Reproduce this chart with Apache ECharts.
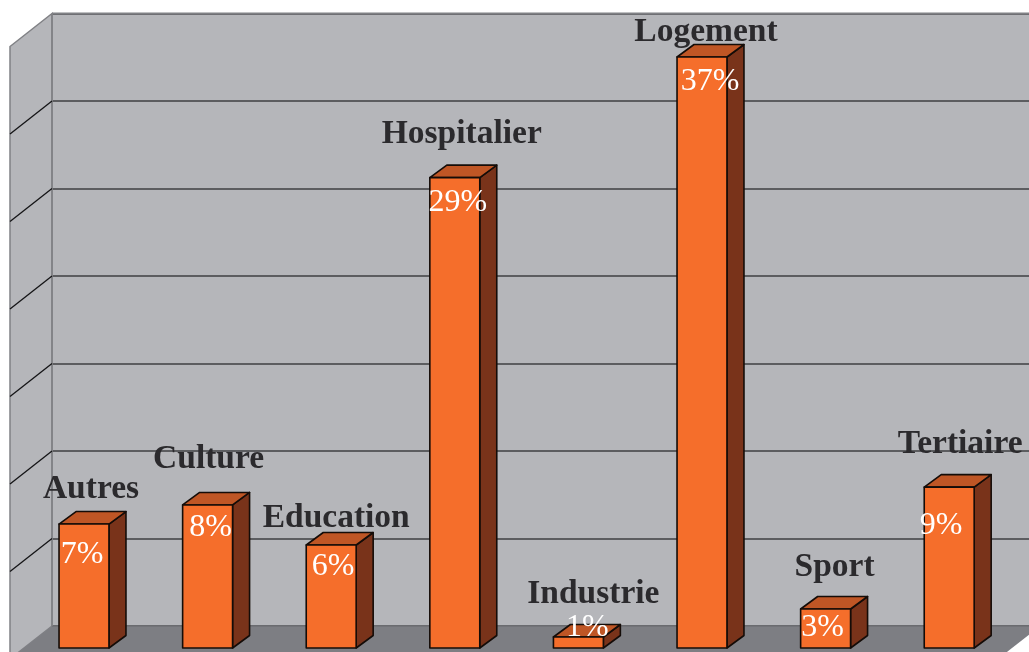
<!DOCTYPE html>
<html>
<head>
<meta charset="utf-8">
<style>html,body{margin:0;padding:0;background:#fff}#c{width:1029px;height:652px}</style>
<script src="https://cdn.jsdelivr.net/npm/echarts@6/dist/echarts.min.js"></script>
</head>
<body>
<div id="c"></div>
<script>
// Data
const categories = ['Autres','Culture','Education','Hospitalier','Industrie','Logement','Sport','Tertiaire'];
const percentLabels = ['7%','8%','6%','29%','1%','37%','3%','9%'];
const barValues = [7.09,8.18,5.89,26.9,0.63,33.8,2.23,9.2]; // heights as read against the gridlines
const wallTicks = [0,5,10,15,20,25,30,35];

// Layout / style (label offsets relative to bar top-centre, in px)
const nameDx = [7,1,5,7,15,4,9,11];
const nameDy = [-35,-46,-27,-43,-43,-25,-42,-43];
const pctDx  = [-2,3,2,3,9,8,-3,-8];
const pctDy  = [31,23,22,25,-9,25,19,38];
const SERIF = '"Liberation Serif","Times New Roman",serif';
const WALL='#b5b6ba', EDGE='#808185', FLOOR='#7d7e83';
const FRONT='#f56e2b', TOP='#bf5625', SIDE='#79331a', STROKE='#140c08';
const wallDepth=[-42,33], barDepth=[17,-12.5];
const off=(p,d)=>[p[0]+d[0],p[1]+d[1]];

const chart = echarts.init(document.getElementById('c'),null,{renderer:'canvas'});
chart.setOption({
  animation:false,
  backgroundColor:'#fff',
  grid:[
    {left:52,right:-1,top:13.5,height:612.5,show:true,backgroundColor:WALL,borderWidth:0},
    {left:22.2,right:18,top:36,height:612}
  ],
  xAxis:[
    {gridIndex:0,type:'value',min:0,max:1,show:false},
    {gridIndex:1,type:'category',data:categories,show:false}
  ],
  yAxis:[
    {gridIndex:0,type:'value',min:0,max:35,interval:5,
      axisLine:{show:false},axisTick:{show:false},axisLabel:{show:false},
      splitLine:{show:true,lineStyle:{color:'#3f3f42',width:1.5}}},
    {gridIndex:1,type:'value',min:0,max:35,show:false}
  ],
  series:[
    { // side wall and floor
      type:'custom',xAxisIndex:0,yAxisIndex:0,z:2,silent:true,clip:false,
      data:[[0,0,35]],
      renderItem(params,api){
        const b=api.coord([0,api.value(1)]), t=api.coord([0,api.value(2)]), r=api.coord([1,api.value(1)]);
        const tr=api.coord([1,api.value(2)]);
        const flEnd=[r[0]+11,r[1]];
        return {type:'group',children:[
          {type:'polygon',shape:{points:[t,off(t,wallDepth),off(b,wallDepth),b]},
            style:{fill:WALL,stroke:EDGE,lineWidth:1.5}},
          {type:'polygon',shape:{points:[b,flEnd,off(flEnd,wallDepth),off(b,wallDepth)]},
            style:{fill:FLOOR,stroke:'none'}},
          {type:'line',shape:{x1:b[0],y1:b[1],x2:r[0],y2:r[1]},style:{stroke:'#6f7074',lineWidth:1.5}},
          {type:'line',shape:{x1:t[0],y1:t[1],x2:tr[0],y2:tr[1]},style:{stroke:EDGE,lineWidth:2}},
          {type:'line',shape:{x1:t[0],y1:t[1],x2:b[0],y2:b[1]},style:{stroke:EDGE,lineWidth:1.5}}
        ]};
      }
    },
    { // gridline continuation on the side wall
      type:'custom',xAxisIndex:0,yAxisIndex:0,z:3,silent:true,clip:false,
      data:wallTicks.slice(1,-1).map(v=>[0,v]),
      renderItem(params,api){
        const p=api.coord([0,api.value(1)]), q=off(p,wallDepth);
        return {type:'line',shape:{x1:p[0],y1:p[1],x2:q[0],y2:q[1]},style:{stroke:'#141416',lineWidth:1.3}};
      }
    },
    { // 3D bars
      type:'custom',xAxisIndex:1,yAxisIndex:1,z:5,silent:true,clip:false,
      data:barValues.map((v,i)=>[i,v]),
      encode:{x:0,y:1},
      renderItem(params,api){
        const i=api.value(0);
        const top=api.coord([i,api.value(1)]), base=api.coord([i,0]);
        const w=api.size([1,0])[0]*0.404;
        const l=top[0]-w/2, r=top[0]+w/2, y0=top[1], y1=base[1];
        const dx=barDepth[0], dy=barDepth[1];
        const line={stroke:STROKE,lineWidth:1.6,lineJoin:'round'};
        return {type:'group',children:[
          {type:'polygon',shape:{points:[[r,y0],[r+dx,y0+dy],[r+dx,y1+dy],[r,y1]]},style:{fill:SIDE,...line}},
          {type:'polygon',shape:{points:[[l,y0],[l+dx,y0+dy],[r+dx,y0+dy],[r,y0]]},style:{fill:TOP,...line}},
          {type:'rect',shape:{x:l,y:y0,width:w,height:y1-y0},style:{fill:FRONT,...line}},
          {type:'text',style:{x:top[0]+nameDx[i],y:y0+nameDy[i],text:categories[i],
            fill:'#2b2a2d',font:'bold 33.5px '+SERIF,align:'center',verticalAlign:'middle'}},
          {type:'text',style:{x:top[0]+pctDx[i],y:y0+pctDy[i],text:percentLabels[i],
            fill:'#ffffff',font:'32px '+SERIF,align:'center',verticalAlign:'middle'}}
        ]};
      }
    }
  ]
});
</script>
</body>
</html>
